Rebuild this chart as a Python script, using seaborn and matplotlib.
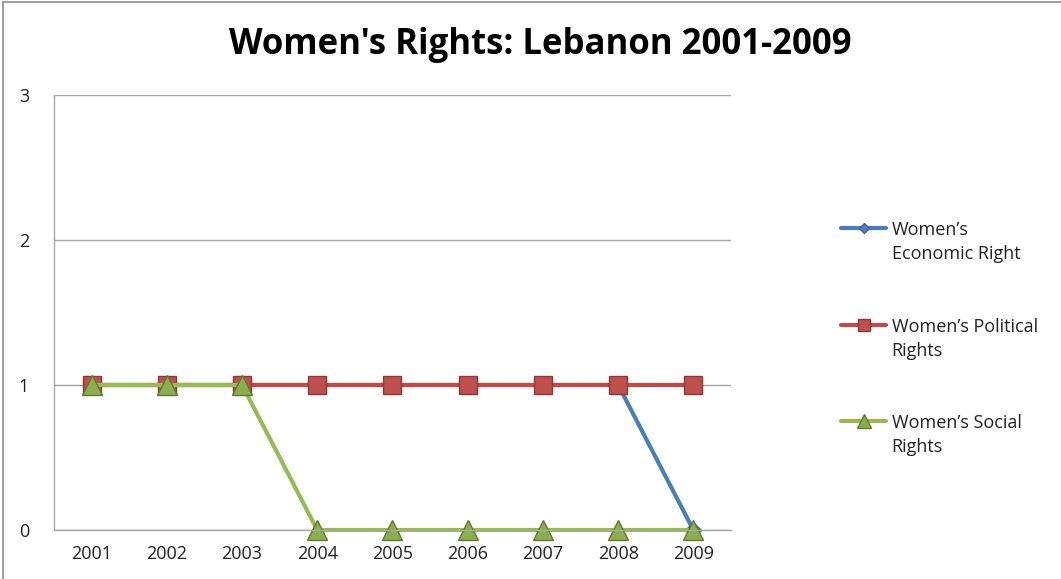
import numpy as np
import pandas as pd
import matplotlib.pyplot as plt
import seaborn as sns
from matplotlib.lines import Line2D
from matplotlib.legend_handler import HandlerLine2D

# Data
years = [2001, 2002, 2003, 2004, 2005, 2006, 2007, 2008, 2009]
economic = [1, 1, 1, 1, 1, 1, 1, 1, 0]
political = [1, 1, 1, 1, 1, 1, 1, 1, 1]
social = [1, 1, 1, 0, 0, 0, 0, 0, 0]
labels = ["Women\u2019s\nEconomic Right", "Women\u2019s Political\nRights", "Women\u2019s Social\nRights"]


# legend keys sit level with the first line of each two-line label
class TopLineHandler(HandlerLine2D):
    def create_artists(self, legend, orig_handle, xdescent, ydescent, width, height, fontsize, trans):
        artists = super().create_artists(legend, orig_handle, xdescent, ydescent,
                                         width, height, fontsize, trans)
        for a in artists:
            a.set_ydata(np.asarray(a.get_ydata()) + fontsize * 0.8)
        return artists


sns.set_theme(style="white")
plt.rcParams['font.family'] = ['Open Sans', 'DejaVu Sans']

fig = plt.figure(figsize=(10.61, 5.79), dpi=100)
ax = fig.add_axes([54 / 1061, 1 - 530 / 579, (731 - 54) / 1061, (530 - 95) / 579])

styles = [
    (economic, '#4A7EBB', 'D', '#4F81BD', '#3A6596', 8),
    (political, '#BE4B48', 's', '#C0504D', '#8C3836', 13),
    (social, '#98B954', '^', '#8CAE4F', '#5E7A2E', 14),
]
handles = []
for (vals, col, mk, face, edge, ms), lab in zip(styles, labels):
    df = pd.DataFrame({'year': years, 'value': vals})
    sns.lineplot(data=df, x='year', y='value', ax=ax, color=col, linewidth=3,
                 marker=mk, markersize=ms, markerfacecolor=face,
                 markeredgecolor=edge, markeredgewidth=1, legend=False)
    handles.append(Line2D([0], [0], color=col, linewidth=3, marker=mk,
                          markersize=ms * 0.7, markerfacecolor=face,
                          markeredgecolor=edge, label=lab))
for line in ax.lines:
    line.set_clip_on(False)

ax.set_xlim(2000.5, 2009.5)
ax.set_ylim(0, 3)
ax.set_xticks(years)
ax.set_xticklabels([str(y) for y in years])
ax.set_yticks([0, 1, 2, 3])
ax.set_xlabel('')
ax.set_ylabel('')
ax.grid(axis='y', color='#A6A6A6', linewidth=1)
for s in ['top', 'right']:
    ax.spines[s].set_visible(False)
for s in ['left', 'bottom']:
    ax.spines[s].set_color('#A6A6A6')
    ax.spines[s].set_linewidth(1)
ax.tick_params(axis='y', length=0, pad=18, labelsize=13, colors='#222222')
ax.tick_params(axis='x', length=0, pad=11, labelsize=13, colors='#222222')

fig.text(0.509, 0.922, "Women's Rights: Lebanon 2001-2009", ha='center', va='center',
         fontsize=25, fontweight='bold', color='black')

leg = fig.legend(handles=handles, loc='center left', bbox_to_anchor=(0.7775, 0.415),
                 frameon=False, fontsize=13, handlelength=2.5, handletextpad=0.3,
                 labelspacing=3.0, handler_map={Line2D: TopLineHandler()})
for t in leg.get_texts():
    t.set_linespacing(1.45)
    t.set_color('#222222')

# outer chart frame (left and top edges visible)
fig.add_artist(Line2D([0.003, 0.003], [0, 0.997], transform=fig.transFigure, color='#8C8C8C', linewidth=1.2))
fig.add_artist(Line2D([0.003, 1], [0.997, 0.997], transform=fig.transFigure, color='#8C8C8C', linewidth=1.2))

fig.savefig('out.png', dpi=100)
